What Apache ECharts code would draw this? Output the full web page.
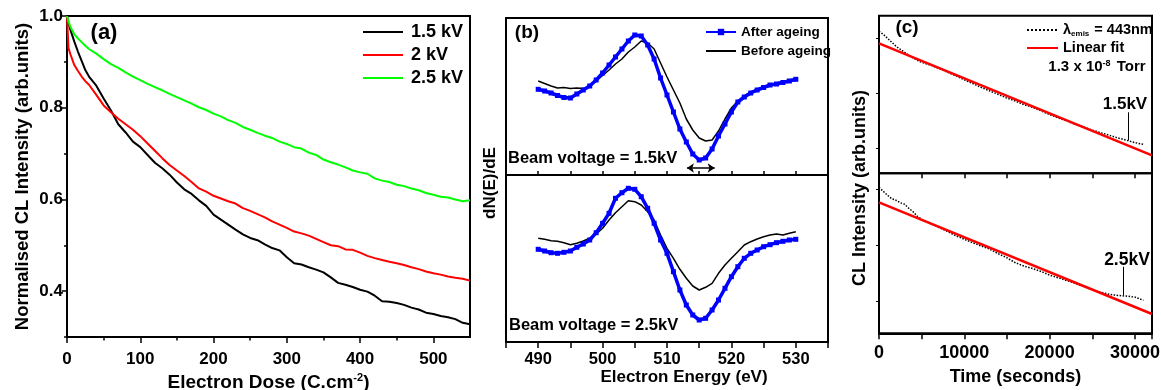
<!DOCTYPE html>
<html>
<head>
<meta charset="utf-8">
<script src="https://cdn.jsdelivr.net/npm/echarts@6/dist/echarts.min.js"></script>
<style>
html, body { margin: 0; padding: 0; background: #fff; }
#chart { width: 1161px; height: 390px; }
</style>
</head>
<body>
<div id="chart"></div>
<script>
// ---------- (a) CL intensity versus electron dose ----------
const doseValues = [0, 2, 5, 10, 15, 20, 25, 30, 40, 50, 60, 70, 80, 90, 100, 110, 120, 130, 140, 150,
  160, 170, 180, 190, 200, 210, 220, 230, 240, 250, 260, 270, 280, 290, 300, 310, 320, 330, 340, 350,
  360, 370, 380, 390, 400, 410, 420, 430, 440, 450, 460, 470, 480, 490, 500, 510, 520, 530, 540, 550];
const cl15kV = [1.000, 0.985, 0.968, 0.944, 0.922, 0.902, 0.882, 0.868, 0.848, 0.820, 0.794, 0.764, 0.746, 0.726, 0.714, 0.697, 0.680, 0.668, 0.654, 0.637,
  0.622, 0.612, 0.598, 0.586, 0.567, 0.556, 0.545, 0.534, 0.524, 0.516, 0.511, 0.502, 0.494, 0.489, 0.474, 0.461, 0.458, 0.452, 0.447, 0.441,
  0.430, 0.418, 0.414, 0.409, 0.403, 0.399, 0.390, 0.378, 0.377, 0.374, 0.370, 0.364, 0.360, 0.353, 0.350, 0.346, 0.343, 0.339, 0.331, 0.328];
const cl2kV = [1.000, 0.930, 0.915, 0.893, 0.880, 0.868, 0.858, 0.850, 0.828, 0.805, 0.790, 0.776, 0.764, 0.752, 0.738, 0.722, 0.706, 0.690, 0.675, 0.663,
  0.651, 0.638, 0.624, 0.617, 0.608, 0.602, 0.596, 0.591, 0.581, 0.575, 0.568, 0.561, 0.552, 0.545, 0.538, 0.530, 0.526, 0.521, 0.514, 0.507,
  0.500, 0.498, 0.491, 0.490, 0.484, 0.477, 0.472, 0.468, 0.464, 0.461, 0.457, 0.452, 0.448, 0.443, 0.439, 0.436, 0.432, 0.429, 0.427, 0.423];
const cl25kV = [1.000, 0.988, 0.975, 0.960, 0.951, 0.943, 0.935, 0.928, 0.918, 0.906, 0.895, 0.887, 0.877, 0.868, 0.860, 0.852, 0.845, 0.838, 0.830, 0.823,
  0.816, 0.809, 0.801, 0.795, 0.787, 0.781, 0.773, 0.767, 0.758, 0.752, 0.745, 0.739, 0.734, 0.726, 0.721, 0.714, 0.711, 0.702, 0.697, 0.687,
  0.681, 0.676, 0.670, 0.663, 0.659, 0.656, 0.646, 0.641, 0.638, 0.632, 0.629, 0.624, 0.620, 0.614, 0.610, 0.606, 0.604, 0.600, 0.596, 0.598];
const doseTickLabels = [0, 100, 200, 300, 400, 500];
const doseMinorTicks = [50, 150, 250, 350, 450];
const clTickLabels = [0.4, 0.6, 0.8, 1.0];
const clMinorTicks = [0.3, 0.5, 0.7, 0.9];

// ---------- (b) Auger derivative spectra ----------
const energyEv = [490, 491, 492, 493, 494, 495, 496, 497, 498, 499, 500, 501, 502, 503, 504, 505, 506, 507, 508, 509,
  510, 511, 512, 513, 514, 515, 516, 517, 518, 519, 520, 521, 522, 523, 524, 525, 526, 527, 528, 529, 530];
const after15 = [10.7, 9, 7, 4.5, 2.5, 2, 6, 10, 14, 20, 27, 35, 43, 51, 59, 65, 64, 55, 41, 22,
  5, -12, -29, -42, -54, -60, -58, -49, -36, -24, -12, -2, 3, 7, 10, 12.5, 15, 16, 17.5, 19, 20.7];
const before15 = [19, 16.5, 14, 12, 12.5, 11.5, 12, 11.5, 14, 19, 24.5, 30, 36, 41, 48, 53, 59, 57, 51, 37,
  23, 10, -3, -19, -30, -38, -41, -40, -31, -19, -8, -1, 4, 8, 11, 13, 15.5, 17, 18.5, 20, 21];
const after25 = [10.7, 9, 7.3, 6.7, 7.7, 9, 12.7, 16, 20, 27.3, 36.7, 46.7, 61.7, 67.3, 71.7, 70.7, 63.3, 51.7, 36.7, 20,
  6.7, -11.7, -30, -45, -55, -60, -58.3, -50, -40, -28.3, -16.7, -6.7, 1.7, 6.7, 10, 13.3, 15.3, 17.3, 18.7, 20, 20.7];
const before25 = [21.7, 20.7, 19.3, 18.7, 17.3, 15.3, 16.7, 19, 21.7, 26, 31.7, 40, 47.3, 53.3, 59.3, 58.3, 55, 48.3, 40, 25,
  11.7, 1.7, -9.3, -18.3, -26, -30, -27.3, -23.3, -13.3, -5, 1.7, 8.3, 15, 18.3, 21, 23.3, 25, 26, 25, 26.7, 28.3];
const energyTickLabels = [490, 500, 510, 520, 530];
const peakShift = [513.1, 517.4, -68];   // start eV, end eV, level of the double arrow

// ---------- (c) CL intensity versus time ----------
const timeSeconds = [0, 500, 1000, 1500, 2000, 2500, 3000, 3500, 4000, 4500, 5000, 6000, 7000, 8000, 9000, 10000,
  11000, 12000, 13000, 14000, 15000, 16000, 17000, 18000, 19000, 20000, 21000, 22000, 23000, 24000, 25000,
  26000, 27000, 28000, 29000, 30000, 31000];
const decay15 = [1.42, 1.39, 1.35, 1.31, 1.27, 1.24, 1.21, 1.18, 1.155, 1.13, 1.11, 1.083, 1.05, 1.012, 0.975, 0.935,
  0.897, 0.858, 0.823, 0.788, 0.752, 0.722, 0.686, 0.66, 0.624, 0.587, 0.555, 0.523, 0.491, 0.462, 0.432,
  0.405, 0.38, 0.354, 0.331, 0.306, 0.29];
const decay25 = [1.46, 1.42, 1.38, 1.345, 1.33, 1.305, 1.29, 1.25, 1.215, 1.17, 1.14, 1.10, 1.06, 1.02, 0.975, 0.94,
  0.905, 0.872, 0.84, 0.795, 0.755, 0.705, 0.672, 0.648, 0.618, 0.582, 0.555, 0.528, 0.498, 0.466, 0.435,
  0.41, 0.39, 0.378, 0.372, 0.362, 0.33];
const fitTime = [0, 32000];
const fit15 = [1.30, 0.18];
const fit25 = [1.31, 0.193];
const timeTickLabels = [0, 10000, 20000, 30000];
const upperIntensityTicks = [0.25, 0.8, 1.35];
const lowerIntensityTicks = [0.32, 0.88, 1.44];
const leader15 = [29180, 0.33, 0.61];
const leader25 = [28620, 0.38, 0.665];

// ---------- styling helpers ----------
const FONT = '"Liberation Sans", Arial, Helvetica, sans-serif';
const pairs = (xs, ys) => xs.map((x, i) => [x, ys[i]]);
const txt = (size, extra) => Object.assign({ color: '#000', fontSize: size, fontWeight: 'bold', fontFamily: FONT }, extra || {});
const tickStyle = { color: '#000', width: 1.5 };
const gridFrame = { show: true, borderColor: '#000', borderWidth: 2, backgroundColor: 'transparent', outerBoundsMode: 'none', containLabel: false };

function hiddenAxis(extra) {
  return Object.assign({
    type: 'value', axisLine: { show: false, onZero: false }, axisTick: { show: false },
    axisLabel: { show: false }, splitLine: { show: false }
  }, extra);
}

const chart = echarts.init(document.getElementById('chart'), null, { renderer: 'canvas', devicePixelRatio: 1 });

const option = {
  animation: false,
  backgroundColor: '#fff',
  grid: [
    Object.assign({ left: 67, top: 16, width: 403, height: 321 }, gridFrame),     // (a)
    Object.assign({ left: 506, top: 18, width: 322, height: 157 }, gridFrame),    // (b) 1.5 kV
    Object.assign({ left: 506, top: 175, width: 322, height: 167 }, gridFrame),   // (b) 2.5 kV
    Object.assign({ left: 879, top: 15.7, width: 273, height: 157.6 }, gridFrame),// (c) 1.5 kV
    Object.assign({ left: 879, top: 173.3, width: 273, height: 160 }, gridFrame)  // (c) 2.5 kV
  ],
  xAxis: [
    {
      gridIndex: 0, type: 'value', position: 'bottom', min: 0, max: 550,
      axisLine: { show: true, onZero: false, lineStyle: { color: '#000', width: 2 } },
      axisTick: { show: true, length: 6, lineStyle: tickStyle, customValues: doseTickLabels },
      axisLabel: txt(17, { customValues: doseTickLabels, margin: 14, formatter: v => String(v) }),
      splitLine: { show: false },
      name: 'Electron Dose (C.cm{sup|-2})', nameLocation: 'middle', nameGap: 32,
      nameTextStyle: txt(19, { rich: { sup: txt(11, { verticalAlign: 'top', padding: [0, 0, 9, 0] }) } })
    },
    hiddenAxis({ gridIndex: 0, position: 'bottom', min: 0, max: 550,
      axisTick: { show: true, length: 3.5, lineStyle: tickStyle, customValues: doseMinorTicks } }),
    hiddenAxis({ gridIndex: 1, position: 'bottom', min: 485, max: 535, interval: 5,
      axisTick: { show: true, inside: true, length: 4, lineStyle: tickStyle } }),
    {
      gridIndex: 2, type: 'value', position: 'bottom', min: 485, max: 535, interval: 5,
      axisLine: { show: true, onZero: false, lineStyle: { color: '#000', width: 2 } },
      axisTick: { show: true, length: 6, lineStyle: tickStyle },
      axisLabel: txt(16.5, { customValues: energyTickLabels, margin: 9, formatter: v => String(v) }),
      splitLine: { show: false },
      name: 'Electron Energy (eV)', nameLocation: 'middle', nameGap: 27,
      nameTextStyle: txt(17, { padding: [0, 0, 0, 34] })
    },
    hiddenAxis({ gridIndex: 3, position: 'bottom', min: 0, max: 32000, interval: 5000,
      axisTick: { show: true, length: 5, lineStyle: tickStyle } }),
    {
      gridIndex: 4, type: 'value', position: 'bottom', min: 0, max: 32000, interval: 5000,
      axisLine: { show: true, onZero: false, lineStyle: { color: '#000', width: 2 } },
      axisTick: { show: true, length: 6, lineStyle: tickStyle },
      axisLabel: txt(18, { customValues: timeTickLabels, margin: 11, formatter: v => String(v) }),
      splitLine: { show: false },
      name: 'Time (seconds)', nameLocation: 'middle', nameGap: 35,
      nameTextStyle: txt(18)
    }
  ],
  yAxis: [
    {
      gridIndex: 0, type: 'value', position: 'left', min: 0.3, max: 1.0,
      axisLine: { show: true, onZero: false, lineStyle: { color: '#000', width: 2 } },
      axisTick: { show: true, length: 5, lineStyle: tickStyle, customValues: clTickLabels },
      axisLabel: txt(17, { customValues: clTickLabels, margin: 4, formatter: v => v.toFixed(1) }),
      splitLine: { show: false },
      name: 'Normalised CL Intensity (arb.units)', nameLocation: 'middle', nameGap: 35,
      nameTextStyle: txt(18.5)
    },
    hiddenAxis({ gridIndex: 0, position: 'left', min: 0.3, max: 1.0,
      axisTick: { show: true, length: 3, lineStyle: tickStyle, customValues: clMinorTicks } }),
    hiddenAxis({ gridIndex: 1, position: 'left', min: -75, max: 82 }),
    hiddenAxis({ gridIndex: 2, position: 'left', min: -82, max: 85 }),
    hiddenAxis({ gridIndex: 3, position: 'left', min: 0, max: 1.576,
      axisTick: { show: true, length: 3, lineStyle: { color: '#000', width: 1 }, customValues: upperIntensityTicks } }),
    hiddenAxis({ gridIndex: 4, position: 'left', min: 0, max: 1.6,
      axisTick: { show: true, length: 3, lineStyle: { color: '#000', width: 1 }, customValues: lowerIntensityTicks } })
  ],
  legend: [
    {
      data: ['1.5 kV', '2 kV', '2.5 kV'], orient: 'vertical', left: 362, top: 22, padding: 0,
      itemWidth: 40, itemHeight: 14, itemGap: 3, itemStyle: { opacity: 0 },
      textStyle: txt(18, { lineHeight: 20, padding: [0, 0, 0, 3] })
    },
    {
      data: ['After ageing', { name: 'Before ageing', itemStyle: { opacity: 0 } }],
      orient: 'vertical', left: 705, top: 24, padding: 0,
      itemWidth: 30, itemHeight: 8, itemGap: 3,
      textStyle: txt(13.5, { lineHeight: 16 })
    },
    {
      data: ['λemis = 443nm', 'Linear fit'], orient: 'vertical', left: 1026, top: 22, padding: 0,
      itemWidth: 31, itemHeight: 10, itemGap: 2, itemStyle: { opacity: 0 },
      formatter: name => name === 'Linear fit' ? name : '{l|λ}{s|emis}{l| = 443nm}',
      textStyle: txt(14.5, { lineHeight: 16, rich: { l: txt(14.5), s: txt(8, { verticalAlign: 'bottom', padding: [5, 1, 0, 0] }) } })
    }
  ],
  series: [
    // (a)
    { name: '1.5 kV', type: 'line', xAxisIndex: 0, yAxisIndex: 0, data: pairs(doseValues, cl15kV),
      symbol: 'none', lineStyle: { color: '#000', width: 2 }, itemStyle: { color: '#000' } },
    { name: '2 kV', type: 'line', xAxisIndex: 0, yAxisIndex: 0, data: pairs(doseValues, cl2kV),
      symbol: 'none', lineStyle: { color: '#ff0000', width: 2 }, itemStyle: { color: '#ff0000' } },
    { name: '2.5 kV', type: 'line', xAxisIndex: 0, yAxisIndex: 0, data: pairs(doseValues, cl25kV),
      symbol: 'none', lineStyle: { color: '#00ff00', width: 2 }, itemStyle: { color: '#00ff00' } },
    // (b) 1.5 kV
    { name: 'Before ageing', type: 'line', xAxisIndex: 2, yAxisIndex: 2, data: pairs(energyEv, before15),
      symbol: 'none', lineStyle: { color: '#000', width: 1.5 }, itemStyle: { color: '#000' } },
    { name: 'After ageing', type: 'line', xAxisIndex: 2, yAxisIndex: 2, data: pairs(energyEv, after15),
      symbol: 'rect', symbolSize: 5, showSymbol: true, lineStyle: { color: '#0000ff', width: 3.5 }, itemStyle: { color: '#0000ff' },
      markLine: {
        silent: true, symbol: ['arrow', 'arrow'], symbolSize: 7, label: { show: false },
        lineStyle: { color: '#000', width: 1.5, type: 'solid' },
        data: [[{ coord: [peakShift[0], peakShift[2]] }, { coord: [peakShift[1], peakShift[2]] }]]
      } },
    // (b) 2.5 kV
    { name: 'Before ageing', type: 'line', xAxisIndex: 3, yAxisIndex: 3, data: pairs(energyEv, before25),
      symbol: 'none', lineStyle: { color: '#000', width: 1.5 }, itemStyle: { color: '#000' } },
    { name: 'After ageing', type: 'line', xAxisIndex: 3, yAxisIndex: 3, data: pairs(energyEv, after25),
      symbol: 'rect', symbolSize: 5, showSymbol: true, lineStyle: { color: '#0000ff', width: 3.5 }, itemStyle: { color: '#0000ff' } },
    // (c) 1.5 kV
    { name: 'λemis = 443nm', type: 'line', xAxisIndex: 4, yAxisIndex: 4, data: pairs(timeSeconds, decay15),
      symbol: 'none', lineStyle: { color: '#000', width: 1.5, type: 'dotted' }, itemStyle: { color: '#000' },
      markLine: {
        silent: true, symbol: ['none', 'none'], label: { show: false },
        lineStyle: { color: '#000', width: 1, type: 'solid' },
        data: [[{ coord: [leader15[0], leader15[1]] }, { coord: [leader15[0], leader15[2]] }]]
      } },
    { name: 'Linear fit', type: 'line', xAxisIndex: 4, yAxisIndex: 4, data: pairs(fitTime, fit15),
      symbol: 'none', lineStyle: { color: '#ff0000', width: 2.5 }, itemStyle: { color: '#ff0000' } },
    // (c) 2.5 kV
    { name: 'λemis = 443nm', type: 'line', xAxisIndex: 5, yAxisIndex: 5, data: pairs(timeSeconds, decay25),
      symbol: 'none', lineStyle: { color: '#000', width: 1.5, type: 'dotted' }, itemStyle: { color: '#000' },
      markLine: {
        silent: true, symbol: ['none', 'none'], label: { show: false },
        lineStyle: { color: '#000', width: 1, type: 'solid' },
        data: [[{ coord: [leader25[0], leader25[1]] }, { coord: [leader25[0], leader25[2]] }]]
      } },
    { name: 'Linear fit', type: 'line', xAxisIndex: 5, yAxisIndex: 5, data: pairs(fitTime, fit25),
      symbol: 'none', lineStyle: { color: '#ff0000', width: 2.5 }, itemStyle: { color: '#ff0000' } }
  ],
  graphic: [
    { type: 'text', x: 104, y: 33, style: { text: '(a)', font: 'bold 22px ' + FONT, fill: '#000', align: 'center', verticalAlign: 'middle' } },
    { type: 'text', x: 527, y: 33, style: { text: '(b)', font: 'bold 19px ' + FONT, fill: '#000', align: 'center', verticalAlign: 'middle' } },
    { type: 'text', x: 907, y: 28, style: { text: '(c)', font: 'bold 19px ' + FONT, fill: '#000', align: 'center', verticalAlign: 'middle' } },
    { type: 'text', x: 508, y: 158, style: { text: 'Beam voltage = 1.5kV', font: 'bold 16.5px ' + FONT, fill: '#000', align: 'left', verticalAlign: 'middle' } },
    { type: 'text', x: 509, y: 325, style: { text: 'Beam voltage = 2.5kV', font: 'bold 16.5px ' + FONT, fill: '#000', align: 'left', verticalAlign: 'middle' } },
    { type: 'text', x: 490, y: 183, rotation: Math.PI / 2, style: { text: 'dN(E)/dE', font: 'bold 17px ' + FONT, fill: '#000', align: 'center', verticalAlign: 'middle' } },
    { type: 'text', x: 860, y: 188, rotation: Math.PI / 2, style: { text: 'CL Intensity (arb.units)', font: 'bold 18px ' + FONT, fill: '#000', align: 'center', verticalAlign: 'middle' } },
    { type: 'text', x: 1097, y: 67, style: {
        text: '{n|1.3 x 10}{p|-8}{n| Torr}', fill: '#000', align: 'center', verticalAlign: 'middle',
        rich: { n: { font: 'bold 15px ' + FONT, fill: '#000' }, p: { font: 'bold 9px ' + FONT, fill: '#000', verticalAlign: 'top', padding: [0, 2, 6, 0] } } } },
    { type: 'text', x: 1125, y: 104, style: { text: '1.5kV', font: 'bold 17px ' + FONT, fill: '#000', align: 'center', verticalAlign: 'middle' } },
    { type: 'text', x: 1127, y: 260, style: { text: '2.5kV', font: 'bold 17.5px ' + FONT, fill: '#000', align: 'center', verticalAlign: 'middle' } }
  ]
};

chart.setOption(option);
</script>
</body>
</html>
